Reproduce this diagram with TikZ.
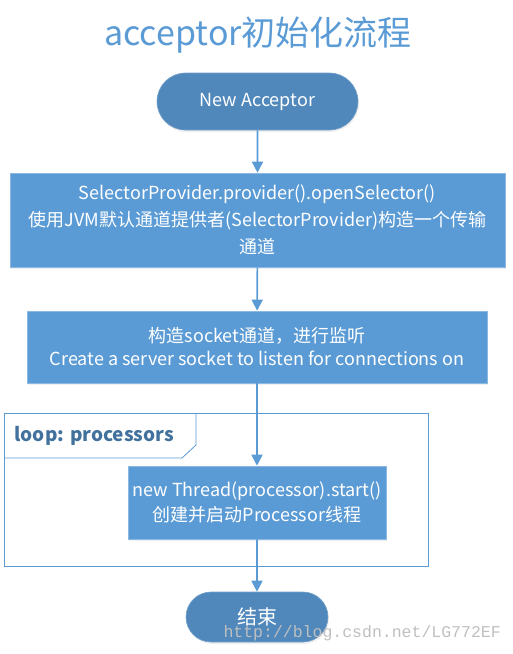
\documentclass[tikz,border=0pt]{standalone}
\usepackage{fontspec}
\setmainfont{Noto Sans CJK SC}
\newfontfamily\wmfont{Liberation Mono}
\usepackage{tikz}
\usetikzlibrary{arrows.meta, positioning, shapes.misc, shadows}

\definecolor{flowblue}{RGB}{91,155,213}
\definecolor{pillblue}{RGB}{80,136,188}
\definecolor{framblue}{RGB}{65,113,156}

\begin{document}
\begin{tikzpicture}[x=1pt, y=-1pt,
  stepbox/.style={rectangle, fill=flowblue, draw=flowblue!70!white, line width=0.6pt,
    text=white, align=center, inner sep=0pt, drop shadow={opacity=0.12, shadow xshift=1pt, shadow yshift=-2pt}},
  termbox/.style={rounded rectangle, fill=pillblue, draw=pillblue!80!white, line width=0.6pt,
    text=white, align=center, inner sep=0pt, drop shadow={opacity=0.12, shadow xshift=1pt, shadow yshift=-2pt}},
  flow/.style={draw=flowblue, line width=1.6pt, -{Triangle[width=11pt, length=11pt]}}]
  \useasboundingbox (0,0) rectangle (513,654);
  \node[text=flowblue, font=\fontsize{34}{38}\selectfont] (title) at (258,35) {acceptor初始化流程};

  \node[termbox, minimum width=201pt, minimum height=57pt, font=\fontsize{18}{20}\selectfont] (start) at (257.5,101.5) {New Acceptor};
  \node[stepbox, minimum width=495pt, minimum height=94pt, font=\fontsize{18}{27}\selectfont] (open) at (257.5,220)
    {SelectorProvider.provider().openSelector()\\使用JVM默认通道提供者(SelectorProvider)构造一个传输\\通道};
  \node[stepbox, minimum width=460pt, minimum height=72pt, font=\fontsize{18}{23}\selectfont] (listen) at (257,347)
    {构造socket通道，进行监听\\Create a server socket to listen for connections on};

  % loop frame
  \draw[flowblue, line width=0.8pt] (4,413) rectangle (428,566);
  \draw[flowblue, line width=0.8pt] (4,458) -- (182,458) -- (196,445) -- (196,413);
  \node[anchor=west, text=framblue, font=\fontsize{19}{21}\selectfont\bfseries] (looplbl) at (11,436) {loop: processors};

  \node[stepbox, minimum width=258pt, minimum height=73pt, font=\fontsize{18}{25}\selectfont] (thread) at (257,502.5)
    {new Thread(processor).start()\\创建并启动Processor线程};
  \node[termbox, minimum width=142pt, minimum height=50pt, font=\fontsize{20}{22}\selectfont] (done) at (257,617) {结束};

  \draw[flow] (start) -- (open);
  \draw[flow] (open) -- (listen);
  \draw[flow] (listen) -- (thread);
  \draw[flow] (thread) -- (done);

  \node[anchor=west, text=black!25, font=\fontsize{16.5}{18}\selectfont\wmfont] (mark) at (220,633) {http://blog.csdn.net/LG772EF};
\end{tikzpicture}
\end{document}
